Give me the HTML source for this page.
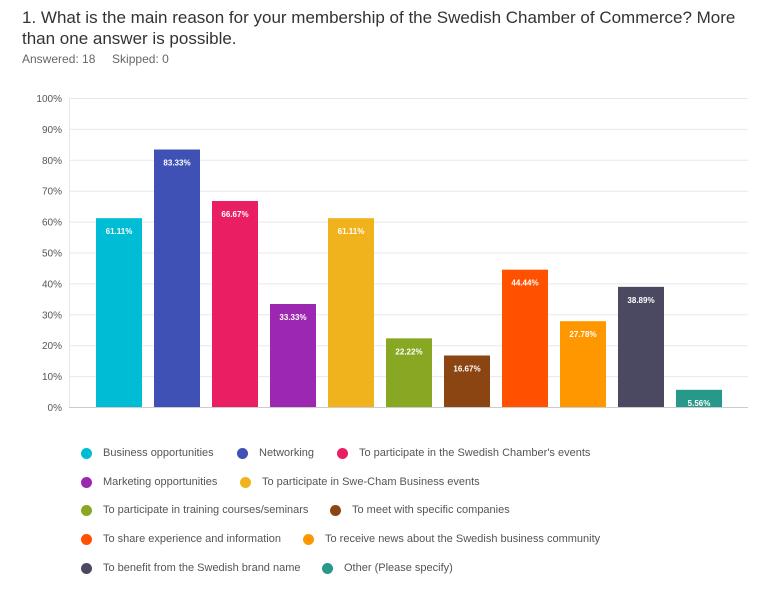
<!DOCTYPE html>
<html><head><meta charset="utf-8"><style>
body{margin:0;width:776px;height:594px;background:#fff;font-family:"Liberation Sans",Arial,sans-serif;position:relative;overflow:hidden}
.t{position:absolute;left:22px;top:7px;font-size:17px;line-height:21px;color:#333;width:740px}
.s{position:absolute;left:22px;top:52px;font-size:12px;color:#666}
.lg{position:absolute;font-size:11px;line-height:13px;color:#555;white-space:nowrap}
.dot{position:absolute;width:11px;height:11px;border-radius:50%}
</style></head><body>
<div class="t">1. What is the main reason for your membership of the Swedish Chamber of Commerce? More than one answer is possible.</div>
<div class="s">Answered: 18&nbsp;&nbsp;&nbsp;&nbsp;&nbsp;Skipped: 0</div>
<svg id="c" width="776" height="594" style="position:absolute;left:0;top:0"></svg>
<div id="leg"></div>
<script>
const categories=["Business opportunities","Networking","To participate in the Swedish Chamber's events","Marketing opportunities","To participate in Swe-Cham Business events","To participate in training courses/seminars","To meet with specific companies","To share experience and information","To receive news about the Swedish business community","To benefit from the Swedish brand name","Other (Please specify)"];
const values=[61.11,83.33,66.67,33.33,61.11,22.22,16.67,44.44,27.78,38.89,5.56];
const colors=["#00bcd4","#3f51b5","#e91e63","#9c27b0","#f0b31e","#88a824","#8b4513","#ff5100","#ff9800","#4b4862","#26998b"];
const ticks=[0,10,20,30,40,50,60,70,80,90,100];
const legendRows=[[0,1,2],[3,4],[5,6],[7,8],[9,10]];
const legendX=[[86,242,342],[86,245],[86,335],[86,308],[86,327]];
const NS="http://www.w3.org/2000/svg";
const svg=document.getElementById('c');
const y=v=>407-v*3.09;
const x=i=>96+i*58;
function mk(t,a){const e=document.createElementNS(NS,t);for(const k in a)e.setAttribute(k,a[k]);svg.appendChild(e);return e;}
ticks.forEach(t=>{
 const l=mk('line',{x1:69,x2:748,y1:y(t)+.5,y2:y(t)+.5,stroke:t==0?'#ccc':'#e8e8e8'});
 
 
 const tx=mk('text',{x:62,y:y(t)+4,'text-anchor':'end','font-size':10,fill:'#555'});
 tx.textContent=t+'%';
 
 
});
mk('line',{x1:69.5,x2:69.5,y1:98,y2:407,stroke:'#e8e8e8'});
values.forEach((v,i)=>{
 const r=mk('rect',{x:x(i),y:y(v),width:46,height:407-y(v),fill:colors[i]});
 
 
 const tx=mk('text',{x:x(i)+23,y:y(v)+16,'text-anchor':'middle','font-size':8,'font-weight':'bold',fill:'#fff'});
 tx.textContent=v.toFixed(2)+'%';
 
 
});
const leg=document.getElementById('leg');
const rowY=[454,483,511,540,569];
legendRows.forEach((row,ri)=>row.forEach((ci,j)=>{
 const d=document.createElement('div');d.className='dot';
 d.style.left=(legendX[ri][j]-5)+'px';d.style.top=(rowY[ri]-6)+'px';d.style.background=colors[ci];
 
 
 leg.appendChild(d);
 const s=document.createElement('div');s.className='lg';
 s.style.left=(legendX[ri][j]+17)+'px';s.style.top=(rowY[ri]-7)+'px';s.textContent=categories[ci];
 
 
 leg.appendChild(s);
}));
</script>
</body></html>
